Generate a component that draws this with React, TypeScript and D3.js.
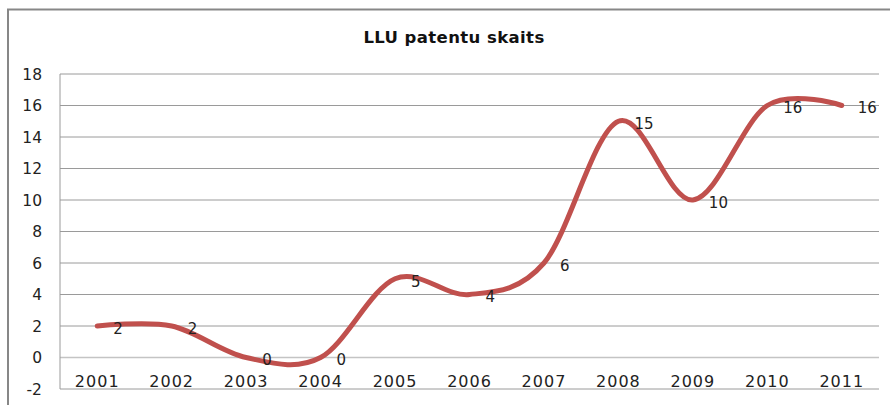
import React from "react";
import { scaleBand, scaleLinear, line, curveCardinal } from "d3";

const years = ["2001", "2002", "2003", "2004", "2005", "2006", "2007", "2008", "2009", "2010", "2011"];
const patents = [2, 2, 0, 0, 5, 4, 6, 15, 10, 16, 16];
const yTicks = [-2, 0, 2, 4, 6, 8, 10, 12, 14, 16, 18];

const W = 890;
const H = 405;
const plot = { left: 60, right: 879, top: 74, bottom: 389 };

export default function App() {
  const x = scaleBand().domain(years).range([plot.left, plot.right]);
  const y = scaleLinear().domain([-2, 18]).range([plot.bottom, plot.top]);
  const cx = (d: string) => (x(d) as number) + x.bandwidth() / 2;

  const pts = years.map((yr, i) => ({ yr, v: patents[i] }));
  const path = line<{ yr: string; v: number }>()
    .x(d => cx(d.yr))
    .y(d => y(d.v))
    .curve(curveCardinal.tension(0))(pts);

  return (
    <svg
      width={W}
      height={H}
      style={{ position: "absolute", left: 0, top: 0, background: "#fff" }}
    >
      <rect x={8} y={9.5} width={900} height={420} fill="#fff" stroke="#878787" strokeWidth={2} />
      <text
        x={454}
        y={43}
        textAnchor="middle"
        fontFamily="DejaVu Sans"
        fontWeight="bold"
        fontSize={16.5}
        letterSpacing={0.4}
        fill="#111"
      >
        LLU patentu skaits
      </text>

      {yTicks.map(t => (
        <g key={t}>
          <line
            x1={plot.left}
            x2={plot.right}
            y1={y(t)}
            y2={y(t)}
            stroke={t === 0 ? "#c4c4c4" : "#9a9a9a"}
            strokeWidth={t === 0 ? 1.6 : 1}
          />
          <text
            x={42}
            y={y(t)}
            dy="0.36em"
            textAnchor="end"
            fontFamily="DejaVu Sans"
            fontSize={15.5}
            fill="#222"
          >
            {t}
          </text>
        </g>
      ))}
      <line x1={plot.left} x2={plot.left} y1={plot.top} y2={plot.bottom} stroke="#9a9a9a" strokeWidth={1} />

      {years.map(yr => (
        <text
          key={yr}
          x={cx(yr)}
          y={387}
          textAnchor="middle"
          fontFamily="DejaVu Sans"
          fontSize={16}
          letterSpacing={1}
          fill="#222"
        >
          {yr}
        </text>
      ))}

      <path d={path ?? ""} fill="none" stroke="#c0504d" strokeWidth={5} strokeLinecap="round" />

      {pts.map(d => (
        <text
          key={"l" + d.yr}
          x={cx(d.yr) + 16}
          y={y(d.v) + 2.5}
          dy="0.36em"
          fontFamily="DejaVu Sans"
          fontSize={15}
          fill="#222"
        >
          {d.v}
        </text>
      ))}
    </svg>
  );
}
